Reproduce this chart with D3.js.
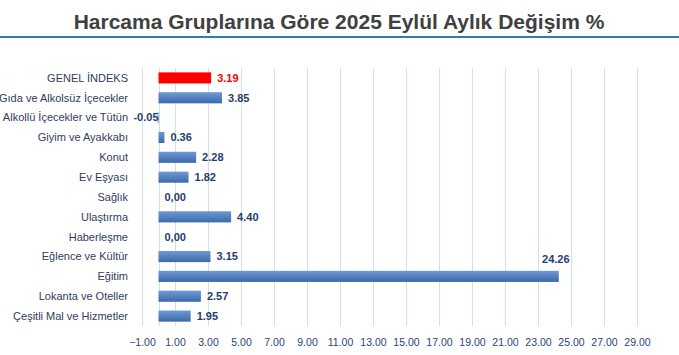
<!DOCTYPE html>
<html lang="tr">
<head>
<meta charset="utf-8">
<script src="https://d3js.org/d3.v7.min.js"></script>
<style>
  body { margin: 0; background: #fff; }
  #chart { font-family: 'Liberation Sans', Arial, sans-serif; }
</style>
</head>
<body>
<div id="chart"></div>
<script>
// data
var categories = ["GENEL İNDEKS", "Gıda ve Alkolsüz İçecekler", "Alkollü İçecekler ve Tütün",
  "Giyim ve Ayakkabı", "Konut", "Ev Eşyası", "Sağlık", "Ulaştırma", "Haberleşme",
  "Eğlence ve Kültür", "Eğitim", "Lokanta ve Oteller", "Çeşitli Mal ve Hizmetler"];
var values = [3.19, 3.85, -0.05, 0.36, 2.28, 1.82, 0.00, 4.40, 0.00, 3.15, 24.26, 2.57, 1.95];
var valueLabels = ["3.19", "3.85", "-0.05", "0.36", "2.28", "1.82", "0,00", "4.40", "0,00",
  "3.15", "24.26", "2.57", "1.95"];
var tickValues = [-1, 1, 3, 5, 7, 9, 11, 13, 15, 17, 19, 21, 23, 25, 27, 29];

(function() {
  var width = 679, height = 355;
  var svg = d3.select("#chart").append("svg")
      .attr("width", width)
      .attr("height", height);

  // title + rule under it
  svg.append("text")
      .attr("x", 339)
      .attr("y", 29)
      .attr("text-anchor", "middle")
      .attr("font-size", 21)
      .attr("font-weight", "bold")
      .attr("fill", "#404040")
      .text("Harcama Gruplarına Göre 2025 Eylül Aylık Değişim %");
  svg.append("line")
      .attr("x1", 0).attr("x2", width)
      .attr("y1", 37).attr("y2", 37)
      .attr("stroke", "#2c7fae")
      .attr("stroke-width", 2);

  var x = d3.scaleLinear().domain([-1, 29]).range([142, 637]);
  var y = d3.scaleBand().domain(categories).range([68, 326]).paddingInner(0.44).paddingOuter(0.22);

  var defs = svg.append("defs");
  var grad = defs.append("linearGradient")
      .attr("id", "barGrad")
      .attr("x1", 0).attr("x2", 0).attr("y1", 0).attr("y2", 1);
  grad.append("stop").attr("offset", "0%").attr("stop-color", "#7099d3");
  grad.append("stop").attr("offset", "100%").attr("stop-color", "#3b69ab");

  // vertical gridlines
  var grid = svg.append("g").attr("stroke", "#d3deed").attr("stroke-width", 1);
  grid.selectAll("line")
      .data(tickValues.concat([0]))
    .enter().append("line")
      .attr("x1", function(d) { return Math.round(x(d)) + 0.5; })
      .attr("x2", function(d) { return Math.round(x(d)) + 0.5; })
      .attr("y1", 68)
      .attr("y2", 326);

  // bars
  svg.append("g").selectAll("rect")
      .data(values)
    .enter().append("rect")
      .attr("x", function(d) { return x(Math.min(0, d)); })
      .attr("y", function(d, i) { return y(categories[i]); })
      .attr("width", function(d) { return Math.abs(x(d) - x(0)); })
      .attr("height", y.bandwidth())
      .attr("fill", function(d, i) { return i === 0 ? "#ff0000" : "url(#barGrad)"; });

  // value labels
  var maxV = d3.max(values);
  svg.append("g").selectAll("text")
      .data(values)
    .enter().append("text")
      .attr("font-size", 11)
      .attr("font-weight", "bold")
      .attr("fill", function(d, i) { return i === 0 ? "#ff0000" : "#243e6b"; })
      .attr("text-anchor", function(d) { return d === maxV ? "middle" : (d < 0 ? "end" : "start"); })
      .attr("x", function(d) {
        if (d === maxV) return x(d) - 3;
        if (d < 0) return x(0);
        return x(d) + 6;
      })
      .attr("y", function(d, i) {
        var c = y(categories[i]) + y.bandwidth() / 2;
        return d === maxV ? c - 17 : c;
      })
      .attr("dy", "0.35em")
      .text(function(d, i) { return valueLabels[i]; });

  // category labels
  svg.append("g").selectAll("text")
      .data(categories)
    .enter().append("text")
      .attr("x", 128)
      .attr("y", function(d) { return y(d) + y.bandwidth() / 2; })
      .attr("dy", "0.35em")
      .attr("text-anchor", "end")
      .attr("font-size", 11)
      .attr("fill", "#2f3d5c")
      .text(function(d) { return d; });

  // x axis labels
  var axis = svg.append("g")
      .attr("transform", "translate(0,336)")
      .call(d3.axisBottom(x).tickValues(tickValues).tickSize(0).tickFormat(d3.format(".2f")));
  axis.select(".domain").remove();
  axis.selectAll("text")
      .attr("font-family", "'Liberation Sans', Arial, sans-serif")
      .attr("font-size", 10.5)
      .attr("fill", "#27457a");
})();
</script>
</body>
</html>
